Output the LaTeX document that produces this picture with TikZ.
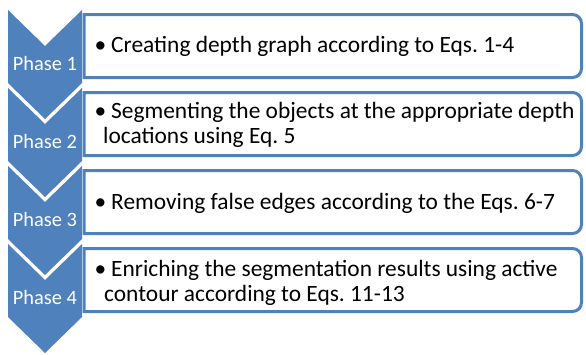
\documentclass[tikz,border=0pt]{standalone}
\usepackage{fontspec}
\setmainfont{Carlito}
\frenchspacing
\definecolor{accblue}{HTML}{4F81BD}
\tikzset{
  chevron/.style={fill=accblue},
  listbox/.style={draw=accblue, line width=3pt, fill=white},
  phaselabel/.style={text=white, inner sep=0pt, anchor=base, font=\fontsize{20.4}{24}\selectfont},
  itemtext/.style={text=black, inner sep=0pt, anchor=base west, font=\fontsize{23.4}{26}\selectfont\frenchspacing}
}
\newcommand{\chevronat}[1]{%
  \fill[chevron] (8,#1) -- (45,#1+36) -- (82,#1) -- (82,#1+73) -- (45,#1+109) -- (8,#1+73) -- cycle;}
\newcommand{\boxat}[1]{%
  \draw[listbox] (84,#1) -- (572.5,#1) arc[start angle=-90,end angle=0,radius=9] -- (581.5,#1+54) arc[start angle=0,end angle=90,radius=9] -- (84,#1+63) -- cycle;}
\begin{document}
\begin{tikzpicture}[x=1pt,y=-1pt]
\useasboundingbox (0,0) rectangle (586,354);
% boxes
\boxat{14.5}
\boxat{92.5}
\boxat{170.5}
\boxat{248.5}
% chevrons
\chevronat{10}
\chevronat{88}
\chevronat{166}
\chevronat{244}
% phase labels
\node[phaselabel] (p1) at (45,70) {Phase 1};
\node[phaselabel] (p2) at (45,148) {Phase 2};
\node[phaselabel] (p3) at (45,226) {Phase 3};
\node[phaselabel] (p4) at (45,304) {Phase 4};
% item texts
\node[itemtext] (t1) at (111,52.5) {\llap{•\hspace{5pt}}Creating depth graph according to Eqs. 1-4};
\node[itemtext] (t2a) at (111,118) {\llap{•\hspace{5pt}}Segmenting the objects at the appropriate depth};
\node[itemtext] (t2b) at (103,143.5) {locations using Eq. 5};
\node[itemtext] (t3) at (111,209) {\llap{•\hspace{5pt}}Removing false edges according to the Eqs. 6-7};
\node[itemtext] (t4a) at (111,276) {\llap{•\hspace{5pt}}Enriching the segmentation results using active};
\node[itemtext] (t4b) at (104,301.5) {contour according to Eqs. 11-13};
\end{tikzpicture}
\end{document}
